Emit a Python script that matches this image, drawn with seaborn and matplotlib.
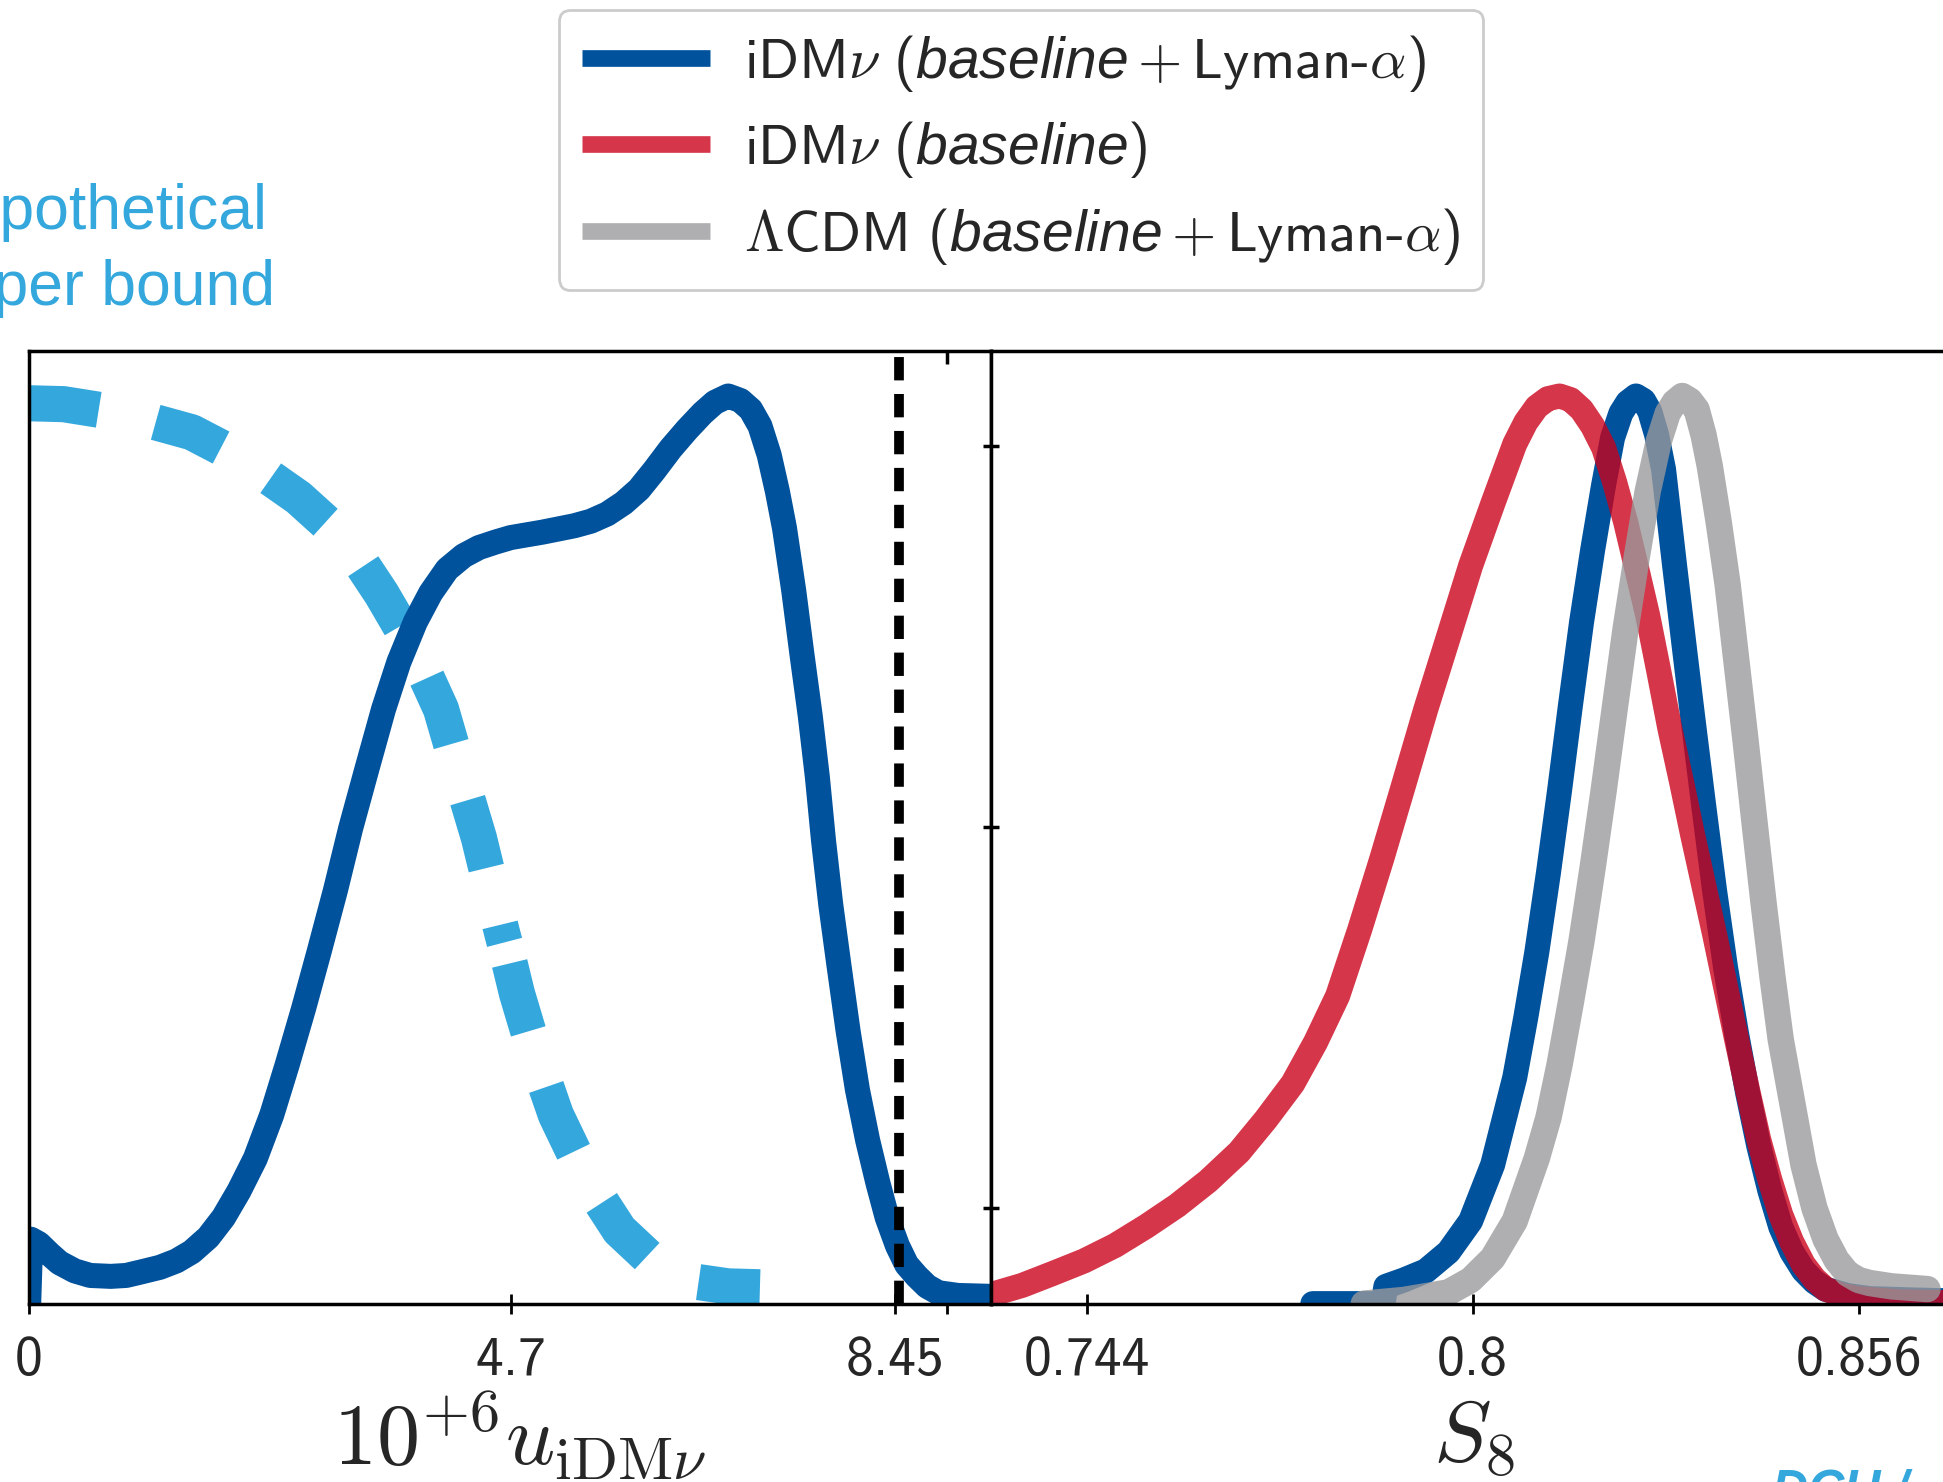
import numpy as np
import seaborn as sns
import matplotlib.pyplot as plt
from matplotlib.lines import Line2D

# ---------- datos ----------
# panel izquierdo: 10^6 u_iDMnu
u_lya = [0.0, 0.02, 0.10, 0.20, 0.30, 0.45, 0.60, 0.80, 0.95, 1.10, 1.28, 1.44, 1.59, 1.75,
         1.90, 2.05, 2.21, 2.37, 2.52, 2.68, 2.83, 2.99, 3.14, 3.30, 3.46, 3.61, 3.77, 3.92,
         4.08, 4.24, 4.39, 4.55, 4.70, 5.01, 5.32, 5.48, 5.64, 5.80, 5.95, 6.10, 6.26, 6.42,
         6.57, 6.69, 6.82, 6.94, 7.04, 7.13, 7.22, 7.30, 7.37, 7.46, 7.54, 7.62, 7.69, 7.75,
         7.82, 7.90, 7.99, 8.08, 8.18, 8.28, 8.37, 8.47, 8.56, 8.66, 8.76, 8.87, 9.06, 9.38]
p_u_lya = [0.0, 0.071, 0.066, 0.055, 0.045, 0.036, 0.031, 0.030, 0.031, 0.035, 0.040, 0.047,
           0.057, 0.073, 0.095, 0.124, 0.160, 0.208, 0.263, 0.325, 0.387, 0.455, 0.524, 0.590,
           0.655, 0.707, 0.751, 0.783, 0.809, 0.824, 0.833, 0.839, 0.844, 0.850, 0.857, 0.862,
           0.870, 0.882, 0.897, 0.918, 0.942, 0.963, 0.981, 0.993, 1.0, 0.995, 0.985, 0.967,
           0.935, 0.895, 0.854, 0.785, 0.715, 0.648, 0.580, 0.510, 0.440, 0.373, 0.300, 0.236,
           0.180, 0.133, 0.095, 0.064, 0.043, 0.030, 0.019, 0.012, 0.009, 0.008]

# cota hipotetica, en dos tramos (el trazo se corta cerca de u = 4.64)
u_hyp_a = [0.0, 0.34, 0.95, 1.59, 2.10, 2.63, 3.10, 3.44, 3.75, 4.02, 4.20, 4.39, 4.61, 4.64]
p_hyp_a = [0.992, 0.991, 0.980, 0.960, 0.930, 0.888, 0.840, 0.782, 0.722, 0.655, 0.585, 0.513,
           0.411, 0.398]
u_hyp_b = [4.64, 4.76, 4.95, 5.14, 5.45, 5.76, 6.10, 6.45, 6.82, 7.13]
p_hyp_b = [0.398, 0.342, 0.270, 0.208, 0.135, 0.081, 0.045, 0.025, 0.019, 0.018]

u_bound = 8.49
u_ticks = [0, 4.7, 8.45, 8.95]
u_ticklabels = ['0', '4.7', '8.45', '']

# panel derecho: S8
s8_lya = [0.7768, 0.7870, 0.7874, 0.7900, 0.7932, 0.7965, 0.7997, 0.8029, 0.8061, 0.8077,
          0.8093, 0.8110, 0.8126, 0.8142, 0.8158, 0.8174, 0.8190, 0.8203, 0.8215, 0.8225,
          0.8237, 0.8248, 0.8257, 0.8267, 0.8277, 0.8293, 0.8306, 0.8319, 0.8335, 0.8351,
          0.8367, 0.8383, 0.8399, 0.8415, 0.8431, 0.8447, 0.8463, 0.8480, 0.8496, 0.8512,
          0.8544, 0.8576, 0.8640, 0.8697]
p_s8_lya = [0.0, 0.0, 0.019, 0.026, 0.036, 0.057, 0.091, 0.153, 0.249, 0.315, 0.387, 0.475,
            0.565, 0.660, 0.751, 0.830, 0.902, 0.954, 0.981, 0.993, 1.0, 0.995, 0.983, 0.957,
            0.919, 0.813, 0.730, 0.648, 0.550, 0.455, 0.370, 0.297, 0.232, 0.174, 0.125,
            0.0845, 0.057, 0.0364, 0.024, 0.0158, 0.0089, 0.0055, 0.004, 0.003]

s8_base = [0.7301, 0.7346, 0.7390, 0.7436, 0.7481, 0.7526, 0.7571, 0.7616, 0.7661, 0.7700,
           0.7739, 0.7772, 0.7804, 0.7836, 0.7868, 0.7900, 0.7932, 0.7965, 0.7997, 0.8029,
           0.8061, 0.8077, 0.8093, 0.8109, 0.8126, 0.8142, 0.8158, 0.8174, 0.8190, 0.8206,
           0.8222, 0.8238, 0.8254, 0.8270, 0.8286, 0.8303, 0.8319, 0.8335, 0.8351, 0.8367,
           0.8383, 0.8399, 0.8415, 0.8431, 0.8447, 0.8463, 0.8480, 0.8496, 0.8512, 0.8536,
           0.8560, 0.8620, 0.8697]
p_s8_base = [0.010, 0.020, 0.033, 0.047, 0.064, 0.085, 0.108, 0.135, 0.167, 0.203, 0.2425,
             0.288, 0.339, 0.412, 0.490, 0.572, 0.655, 0.735, 0.813, 0.881, 0.947, 0.971,
             0.988, 0.997, 1.0, 0.996, 0.985, 0.967, 0.943, 0.905, 0.861, 0.810, 0.758, 0.697,
             0.634, 0.575, 0.517, 0.462, 0.407, 0.349, 0.291, 0.235, 0.181, 0.137, 0.098,
             0.068, 0.043, 0.027, 0.016, 0.009, 0.0055, 0.002, 0.001]

s8_lcdm = [0.7842, 0.7900, 0.7965, 0.7997, 0.8029, 0.8061, 0.8093, 0.8110, 0.8126, 0.8142,
           0.8158, 0.8174, 0.8190, 0.8206, 0.8222, 0.8238, 0.8254, 0.8270, 0.8283, 0.8293,
           0.8304, 0.8315, 0.8325, 0.8335, 0.8344, 0.8357, 0.8370, 0.8383, 0.8396, 0.8409,
           0.8422, 0.8435, 0.8447, 0.8464, 0.8480, 0.8496, 0.8512, 0.8528, 0.8544, 0.8560,
           0.8576, 0.8608, 0.8660]
p_s8_lcdm = [0.0, 0.004, 0.0124, 0.026, 0.050, 0.091, 0.160, 0.205, 0.263, 0.330, 0.400,
             0.480, 0.565, 0.655, 0.744, 0.822, 0.895, 0.950, 0.981, 0.993, 1.0, 0.995, 0.985,
             0.957, 0.923, 0.861, 0.792, 0.706, 0.620, 0.530, 0.442, 0.360, 0.291, 0.220,
             0.153, 0.105, 0.071, 0.048, 0.033, 0.026, 0.0227, 0.019, 0.016]

s8_ticks = [0.744, 0.8, 0.856]
s8_ticklabels = ['0.744', '0.8', '0.856']

etiquetas = [r"$\mathrm{iDM}\nu\ (\mathsf{baseline}+\mathrm{Lyman}$-$\alpha)$",
             r"$\mathrm{iDM}\nu\ (\mathsf{baseline})$",
             r"$\Lambda\mathrm{CDM}\ (\mathsf{baseline}+\mathrm{Lyman}$-$\alpha)$"]

AZUL = '#00529d'
ROJO = '#cb0019'
GRIS = '#9a9a9c'
CELESTE = '#34a7dd'

# ---------- estilo ----------
sns.set_theme(style="white")
plt.rcParams['font.family'] = ['cmss10', 'DejaVu Sans']
plt.rcParams['mathtext.fontset'] = 'custom'
plt.rcParams['mathtext.rm'] = 'cmss10'
plt.rcParams['mathtext.it'] = 'cmmi10'
plt.rcParams['mathtext.sf'] = 'Liberation Sans:italic'
plt.rcParams['axes.unicode_minus'] = False
plt.rcParams['axes.linewidth'] = 2.5
plt.rcParams['axes.edgecolor'] = 'black'

W, H = 1943, 1482
fig = plt.figure(figsize=(W / 100, H / 100), dpi=100)
ax1 = fig.add_axes([28.7 / W, (H - 1303.6) / H, 962 / W, 953 / H])
ax2 = fig.add_axes([991 / W, (H - 1303.6) / H, 962 / W, 953 / H])
ax1.set_xlim(0, 9.38)
ax1.set_ylim(0, 1.05)
ax2.set_xlim(0.7301, 0.8697)
ax2.set_ylim(0, 1.05)

# ---------- panel izquierdo ----------
LW_HYP = 26


def largo_en_lw(ax, xs, ys, lw):
    pts = ax.transData.transform(np.column_stack([xs, ys]))
    return np.hypot(*np.diff(pts, axis=0).T).sum() / (lw * fig.dpi / 72)


# ajustar el patron para que el primer tramo acabe en un trazo corto
L1 = largo_en_lw(ax1, u_hyp_a, p_hyp_a, LW_HYP)
on0, off0, punto = 2.05, 1.7, 0.5
n = max(1, round((L1 - punto) / (on0 + off0)))
k = (L1 - punto) / (n * (on0 + off0))
on, off = on0 * k, off0 * k

sns.lineplot(x=u_hyp_a, y=p_hyp_a, ax=ax1, color=CELESTE, linewidth=LW_HYP, sort=False,
             estimator=None, linestyle=(0, (on, off)), dash_capstyle='butt',
             dash_joinstyle='round')
sns.lineplot(x=u_hyp_b, y=p_hyp_b, ax=ax1, color=CELESTE, linewidth=LW_HYP, sort=False,
             estimator=None, linestyle=(on + off - 0.6, (on, off)), dash_capstyle='butt',
             dash_joinstyle='round')
sns.lineplot(x=u_lya, y=p_u_lya, ax=ax1, color=AZUL, linewidth=18, sort=False,
             estimator=None, solid_capstyle='round', solid_joinstyle='round')
ax1.axvline(u_bound, color='black', linewidth=7, linestyle=(0, (2.4, 1.4)))

ax1.set_xticks(u_ticks, labels=u_ticklabels)
ax1.set_xticks([8.95], minor=True)
ax1.xaxis.remove_overlapping_locs = False
ax1.set_yticks([])
ax1.tick_params(axis='x', which='major', direction='inout', length=14, width=2,
                labelsize=40, pad=16, bottom=True, top=False, color='black')
ax1.tick_params(axis='x', which='minor', direction='in', length=9, width=2.5,
                bottom=False, top=True, color='black')
ax1.set_xlabel(r"$10^{+6}u_{\mathrm{iDM}\nu}$", fontsize=62, math_fontfamily='cm',
               va='baseline')
ax1.xaxis.set_label_coords(0.51, -0.170)

# ---------- panel derecho ----------
sns.lineplot(x=s8_lya, y=p_s8_lya, ax=ax2, color=AZUL, linewidth=18, sort=False,
             estimator=None, solid_capstyle='round', solid_joinstyle='round')
sns.lineplot(x=s8_base, y=p_s8_base, ax=ax2, color=ROJO, alpha=0.79, linewidth=18,
             sort=False, estimator=None, solid_capstyle='round', solid_joinstyle='round')
sns.lineplot(x=s8_lcdm, y=p_s8_lcdm, ax=ax2, color=GRIS, alpha=0.79, linewidth=19,
             sort=False, estimator=None, solid_capstyle='round', solid_joinstyle='round')

ax2.set_xticks(s8_ticks, labels=s8_ticklabels)
ax2.set_yticks([0.105, 0.525, 0.945], labels=['', '', ''])
ax2.tick_params(axis='x', direction='inout', length=14, width=2, labelsize=40, pad=16,
                bottom=True, top=False, color='black')
ax2.tick_params(axis='y', direction='inout', length=12, width=2.5, left=True, right=False,
                color='black')
ax2.spines['right'].set_visible(False)
ax2.set_xlabel(r"$S_8$", fontsize=62, math_fontfamily='cm', va='baseline')
ax2.xaxis.set_label_coords(0.502, -0.166)

# ---------- leyenda ----------
handles = [Line2D([], [], color=AZUL, lw=12, solid_capstyle='butt'),
           Line2D([], [], color=ROJO, alpha=0.79, lw=12, solid_capstyle='butt'),
           Line2D([], [], color=GRIS, alpha=0.79, lw=12, solid_capstyle='butt')]
leg = fig.legend(handles, etiquetas, loc='upper center',
                 bbox_to_anchor=(1021 / W, 1 - 10 / H), borderaxespad=0, fontsize=41,
                 frameon=True, fancybox=True, framealpha=1, edgecolor='#cccccc',
                 handlelength=2.25, handletextpad=0.6, labelspacing=0.45, borderpad=0.4)
leg.get_frame().set_linewidth(2)

# ---------- textos recortados ----------
fig.text(-76 / W, 1 - 229 / H, 'Hypothetical', family='Liberation Sans', fontsize=45,
         color=CELESTE, va='baseline', ha='left')
fig.text(-76 / W, 1 - 305 / H, 'upper bound', family='Liberation Sans', fontsize=45,
         color=CELESTE, va='baseline', ha='left')
fig.text(1772 / W, 1 - 1468 / H, 'DCU /', family='Liberation Sans', fontsize=36,
         color=CELESTE, weight='bold', style='italic', va='top', ha='left')

fig.savefig('out.png', dpi=100)
